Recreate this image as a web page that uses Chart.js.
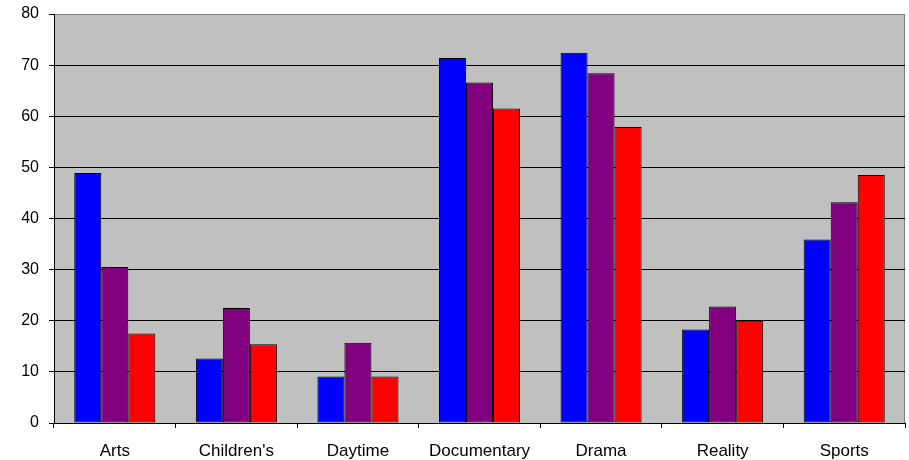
<!DOCTYPE html>
<html>
<head>
<meta charset="utf-8">
<script src="https://cdn.jsdelivr.net/npm/chart.js@4"></script>
<style>
    html, body { margin: 0; padding: 0; background: #fff; }
    #wrap { width: 909px; height: 460px; }
</style>
</head>
<body>
<div id="wrap"><canvas id="chart"></canvas></div>
<script>
const categories = ['Arts', "Children's", 'Daytime', 'Documentary', 'Drama', 'Reality', 'Sports'];
const seriesBlue = [48.9, 12.6, 9.1, 71.4, 72.4, 18.3, 35.9];
const seriesPurple = [30.5, 22.5, 15.7, 66.6, 68.4, 22.8, 43.2];
const seriesRed = [17.5, 15.4, 9.1, 61.5, 57.9, 20.0, 48.5];
const yTicks = [0, 10, 20, 30, 40, 50, 60, 70, 80];

// grey plot area with a grey frame on top and right, like the original
const plotArea = {
    id: 'plotArea',
    beforeDraw(chart) {
        const { ctx, chartArea: a } = chart;
        ctx.save();
        ctx.fillStyle = '#C0C0C0';
        ctx.fillRect(a.left, a.top, a.right - a.left, a.bottom - a.top);
        ctx.strokeStyle = '#808080';
        ctx.lineWidth = 1;
        ctx.beginPath();
        ctx.moveTo(a.left, Math.round(a.top) + 0.5);
        ctx.lineTo(Math.round(a.right) - 0.5, Math.round(a.top) + 0.5);
        ctx.lineTo(Math.round(a.right) - 0.5, a.bottom);
        ctx.stroke();
        ctx.restore();
    },
};

const bar = (label, data, color) => ({
    label,
    data,
    backgroundColor: color,
    borderColor: '#000',
    borderWidth: 1,
    borderSkipped: false,
    categoryPercentage: 0.667,
    barPercentage: 1,
});

new Chart(document.getElementById('chart'), {
    type: 'bar',
    data: {
        labels: categories,
        datasets: [
            bar('Series 1', seriesBlue, '#0000FF'),
            bar('Series 2', seriesPurple, '#800080'),
            bar('Series 3', seriesRed, '#FF0000'),
        ],
    },
    plugins: [plotArea],
    options: {
        responsive: true,
        maintainAspectRatio: false,
        animation: false,
        layout: { padding: { top: 0, right: 4, bottom: 0, left: 0 } },
        plugins: {
            legend: { display: false },
            tooltip: { enabled: false },
        },
        scales: {
            x: {
                grid: {
                    offset: true,
                    drawOnChartArea: false,
                    tickLength: 5,
                    tickColor: '#000',
                },
                border: { color: '#000', width: 1 },
                ticks: {
                    color: '#000',
                    padding: 13,
                    font: { family: 'Arial, "Liberation Sans", sans-serif', size: 17 },
                },
                afterFit: (scale) => { scale.height = 37; },
            },
            y: {
                min: 0,
                max: 80,
                afterBuildTicks: (scale) => {
                    scale.ticks = yTicks.map((v) => ({ value: v }));
                },
                grid: {
                    color: (c) => (c.tick && c.tick.value === 80 ? '#808080' : '#000'),
                    tickColor: '#000',
                    tickLength: 5,
                },
                border: { color: '#000', width: 1 },
                ticks: {
                    color: '#000',
                    padding: 10,
                    font: { family: 'Arial, "Liberation Sans", sans-serif', size: 16 },
                },
                afterFit: (scale) => {
                    scale.width = 54;
                    scale.paddingTop = 14;
                },
            },
        },
    },
});
</script>
</body>
</html>
